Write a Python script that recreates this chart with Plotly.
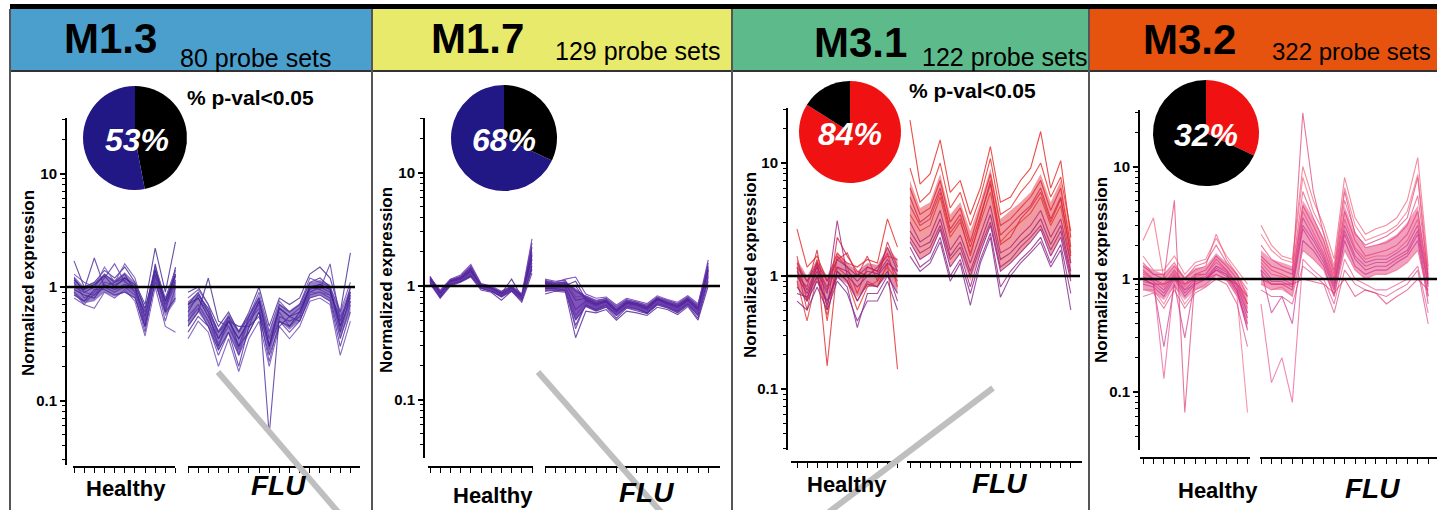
import plotly.graph_objects as go

W, H = 1437, 510

# ---------------- data ----------------
module_names = ["M1.3", "M1.7", "M3.1", "M3.2"]
probe_set_labels = ["80 probe sets", "129 probe sets", "122 probe sets", "322 probe sets"]
pct_significant = [53, 68, 84, 32]
group_labels = ["Healthy", "FLU"]
pval_label = "% p-val<0.05"
y_title = "Normalized expression"
y_tick_vals = [0.1, 1, 10]
y_tick_text = ["0.1", "1", "10"]

m13_healthy = [
    [1.2, 0.9, 1.0, 1.3, 1.1, 1.2, 1.0, 0.45, 1.6, 0.6, 1.5],
    [0.9, 0.75, 0.85, 1.0, 0.9, 1.0, 0.85, 0.4, 1.2, 0.5, 1.0],
    [1.7, 1.0, 1.1, 1.4, 1.2, 1.5, 1.1, 0.7, 2.2, 0.9, 2.5],
    [0.8, 0.7, 0.65, 0.9, 0.8, 0.95, 0.75, 0.37, 1.0, 0.45, 0.4],
    [1.0, 0.95, 1.8, 1.0, 1.1, 1.3, 0.9, 0.6, 1.4, 0.75, 1.3],
    [1.1, 0.8, 0.9, 1.2, 1.6, 1.1, 1.0, 0.5, 1.3, 0.65, 1.1],
    [0.95, 0.85, 0.8, 1.05, 0.95, 1.05, 1.0, 0.55, 1.25, 0.7, 1.15],
    [1.3, 1.1, 1.0, 1.5, 1.1, 1.6, 1.2, 0.6, 1.5, 0.8, 1.4],
    [0.85, 0.75, 0.95, 0.95, 0.85, 0.9, 0.8, 0.45, 1.1, 0.6, 0.8],
    [1.0, 0.9, 0.85, 1.1, 1.05, 1.15, 0.9, 0.5, 1.3, 0.65, 1.3],
    [1.15, 0.95, 1.05, 1.25, 1.0, 1.2, 1.05, 0.65, 1.4, 0.75, 1.25],
    [0.9, 0.7, 0.9, 1.0, 0.9, 1.05, 0.9, 0.5, 1.2, 0.65, 1.05],
]
m13_flu = [
    [0.7, 0.9, 0.6, 0.3, 0.55, 0.3, 0.55, 0.8, 0.3, 0.7, 0.6, 0.7, 1.1, 1.2, 1.0, 0.45, 1.0],
    [0.5, 0.65, 0.45, 0.25, 0.4, 0.25, 0.4, 0.6, 0.22, 0.5, 0.4, 0.5, 0.85, 0.9, 0.8, 0.35, 0.7],
    [0.9, 1.0, 0.7, 0.45, 0.6, 0.4, 0.6, 1.0, 0.45, 0.8, 0.7, 0.8, 1.3, 1.5, 1.2, 0.6, 2.0],
    [0.35, 0.5, 0.4, 0.2, 0.35, 0.18, 0.35, 0.5, 0.2, 0.45, 0.35, 0.45, 0.75, 0.8, 0.7, 0.25, 0.5],
    [0.6, 0.85, 0.65, 0.4, 0.5, 0.45, 0.45, 0.75, 0.05, 0.55, 0.5, 0.55, 0.9, 1.0, 0.9, 0.5, 0.9],
    [0.55, 0.7, 0.5, 0.3, 0.5, 0.35, 0.5, 0.65, 0.3, 0.6, 0.45, 0.55, 1.0, 0.95, 0.85, 0.55, 0.8],
    [0.45, 0.6, 1.2, 0.5, 0.45, 0.3, 0.4, 0.6, 0.3, 0.5, 0.45, 0.6, 0.95, 1.05, 0.95, 0.45, 0.75],
    [0.8, 0.95, 0.7, 0.35, 0.55, 0.25, 0.55, 0.9, 0.4, 0.75, 0.6, 0.7, 1.2, 1.1, 1.0, 0.6, 1.1],
    [0.4, 0.55, 0.45, 0.28, 0.4, 0.2, 0.45, 0.55, 0.25, 0.45, 0.55, 0.5, 0.8, 0.85, 0.75, 0.3, 0.6],
    [0.65, 0.8, 0.6, 0.4, 0.55, 0.4, 0.55, 0.8, 0.35, 0.65, 0.55, 0.65, 1.0, 0.95, 1.6, 0.5, 0.9],
    [0.7, 0.8, 0.55, 0.35, 0.5, 0.35, 0.5, 0.75, 0.3, 0.65, 0.55, 0.6, 1.0, 1.05, 0.95, 0.4, 0.85],
    [0.5, 0.7, 0.5, 0.32, 0.45, 0.28, 0.5, 0.7, 0.28, 0.55, 0.5, 0.55, 0.9, 0.9, 0.85, 0.42, 0.75],
]
m13_healthy_core = [[0.85, 0.72, 0.75, 0.9, 0.82, 0.9, 0.8, 0.42, 1.05, 0.55, 0.75],
                    [1.25, 1.0, 1.1, 1.3, 1.15, 1.35, 1.1, 0.65, 1.6, 0.8, 1.5]]
m13_flu_core = [[0.45, 0.6, 0.45, 0.27, 0.4, 0.25, 0.42, 0.6, 0.25, 0.5, 0.42, 0.5, 0.8, 0.85, 0.75, 0.35, 0.6],
                [0.75, 0.9, 0.65, 0.42, 0.58, 0.42, 0.58, 0.85, 0.42, 0.72, 0.62, 0.72, 1.1, 1.15, 1.05, 0.6, 1.0]]

m17_healthy = [
    [1.2, 0.88, 1.12, 1.2, 1.45, 1.02, 0.97, 0.88, 0.98, 0.82, 2.4],
    [1.1, 0.8, 1.05, 1.1, 1.25, 0.95, 0.9, 0.82, 0.92, 0.76, 1.5],
    [1.18, 0.92, 1.15, 1.25, 1.55, 1.05, 1.0, 0.9, 1.0, 0.85, 2.0],
    [1.05, 0.78, 1.0, 1.08, 1.2, 0.92, 0.88, 0.75, 0.9, 0.72, 1.3],
    [1.22, 0.86, 1.1, 1.18, 1.4, 1.0, 0.96, 0.86, 1.15, 0.8, 2.2],
    [1.12, 0.84, 1.08, 1.12, 1.3, 0.98, 0.94, 0.84, 0.94, 0.79, 1.7],
    [1.15, 0.82, 1.12, 1.17, 1.38, 1.03, 0.93, 0.83, 0.93, 0.78, 1.9],
    [1.08, 0.8, 1.02, 1.1, 1.22, 0.96, 0.9, 0.8, 0.9, 0.75, 1.4],
    [1.2, 0.9, 1.14, 1.22, 1.5, 1.04, 0.98, 0.88, 0.99, 0.84, 2.6],
    [1.13, 0.85, 1.09, 1.14, 1.33, 1.0, 0.95, 0.85, 0.95, 0.8, 1.75],
    [1.16, 0.87, 1.1, 1.16, 1.36, 1.01, 0.96, 0.86, 0.96, 0.81, 1.85],
    [1.1, 0.83, 1.06, 1.12, 1.28, 0.97, 0.93, 0.83, 0.93, 0.78, 1.6],
]
m17_flu = [
    [1.1, 1.05, 1.08, 0.9, 0.8, 0.72, 0.75, 0.62, 0.74, 0.7, 0.66, 0.78, 0.72, 0.68, 0.78, 0.65, 1.6],
    [0.95, 0.95, 0.92, 0.45, 0.68, 0.62, 0.68, 0.55, 0.66, 0.63, 0.58, 0.7, 0.66, 0.6, 0.7, 0.55, 1.2],
    [1.12, 1.08, 1.15, 1.2, 0.85, 0.78, 0.8, 0.68, 0.78, 0.74, 0.7, 0.82, 0.76, 0.72, 0.82, 0.7, 1.5],
    [0.85, 0.9, 0.88, 0.35, 0.6, 0.58, 0.62, 0.5, 0.6, 0.58, 0.55, 0.65, 0.62, 0.56, 0.66, 0.5, 1.0],
    [1.08, 1.02, 1.05, 0.75, 0.78, 0.7, 0.74, 0.6, 0.72, 0.7, 0.64, 0.78, 0.7, 0.66, 0.76, 0.6, 1.45],
    [1.0, 0.98, 0.98, 0.55, 0.72, 0.66, 0.7, 0.58, 0.68, 0.66, 0.62, 0.73, 0.68, 0.63, 0.73, 0.6, 1.3],
    [1.05, 1.0, 1.02, 1.0, 0.74, 0.67, 0.73, 0.59, 0.7, 0.67, 0.62, 0.76, 0.69, 0.64, 0.74, 0.63, 1.4],
    [0.9, 0.92, 0.9, 0.5, 0.66, 0.6, 0.65, 0.52, 0.64, 0.6, 0.57, 0.68, 0.64, 0.58, 0.68, 0.52, 1.1],
    [1.15, 1.1, 1.12, 0.8, 0.82, 0.75, 0.78, 0.66, 0.76, 0.72, 0.68, 0.8, 0.75, 0.7, 0.8, 0.68, 1.7],
    [1.02, 0.99, 1.0, 0.62, 0.74, 0.68, 0.72, 0.6, 0.7, 0.68, 0.63, 0.75, 0.7, 0.65, 0.75, 0.62, 1.35],
    [1.06, 1.01, 1.01, 1.1, 0.76, 0.69, 0.73, 0.61, 0.71, 0.69, 0.64, 0.76, 0.71, 0.66, 0.76, 0.63, 1.38],
    [0.98, 0.96, 0.96, 0.42, 0.7, 0.64, 0.69, 0.56, 0.67, 0.64, 0.6, 0.72, 0.67, 0.62, 0.71, 0.58, 1.25],
]
m17_healthy_core = [[1.05, 0.8, 1.02, 1.08, 1.22, 0.95, 0.9, 0.8, 0.9, 0.76, 1.4],
                    [1.2, 0.9, 1.14, 1.22, 1.5, 1.05, 0.98, 0.9, 1.0, 0.85, 2.3]]
m17_flu_core = [[0.9, 0.92, 0.9, 0.5, 0.66, 0.6, 0.65, 0.54, 0.64, 0.61, 0.57, 0.68, 0.64, 0.58, 0.68, 0.54, 1.1],
                [1.12, 1.08, 1.1, 0.95, 0.82, 0.75, 0.78, 0.66, 0.76, 0.73, 0.68, 0.8, 0.75, 0.7, 0.8, 0.68, 1.6]]

m31_healthy = [
    [2.6, 1.2, 1.5, 0.9, 1.6, 1.3, 1.2, 1.4, 1.3, 3.2, 1.8],
    [1.5, 0.6, 1.4, 0.4, 1.5, 1.2, 0.7, 1.2, 1.1, 1.6, 0.8],
    [1.2, 0.5, 1.3, 0.16, 1.2, 1.0, 0.6, 0.9, 0.8, 1.3, 0.15],
    [1.0, 0.8, 1.7, 0.5, 2.2, 1.5, 1.1, 1.0, 1.2, 1.5, 1.4],
    [0.9, 0.4, 1.0, 0.45, 1.1, 0.9, 0.5, 0.8, 0.9, 1.2, 0.9],
    [1.3, 0.9, 1.2, 0.8, 1.4, 1.6, 1.0, 1.5, 0.9, 2.0, 1.2],
    [1.0, 0.7, 1.1, 0.7, 3.1, 1.0, 0.8, 1.0, 1.0, 1.3, 1.1],
    [0.8, 0.6, 0.9, 0.6, 1.0, 0.8, 0.35, 0.7, 0.7, 1.0, 0.7],
    [1.1, 0.75, 1.2, 0.75, 1.2, 1.1, 0.9, 1.1, 1.05, 1.4, 1.0],
    [0.6, 0.5, 0.8, 0.5, 0.9, 0.7, 0.4, 0.6, 0.6, 0.9, 0.5],
    [1.2, 0.9, 1.3, 0.9, 1.4, 1.2, 1.0, 1.2, 1.1, 1.8, 1.1],
    [0.7, 0.65, 1.0, 0.55, 1.1, 0.9, 0.6, 0.85, 0.8, 1.1, 0.6],
]
m31_flu = [
    [24, 6.5, 8, 16, 5.5, 7, 3.5, 6, 14, 4.5, 5, 7, 9, 19, 6, 10.5, 2.2],
    [9, 4.5, 5.5, 10, 4, 5.5, 2.8, 5, 11, 3.5, 4, 5.5, 7, 10, 5, 7.5, 2.5],
    [6, 3.5, 4, 7, 3, 4, 2.0, 4, 8, 2.8, 3.2, 4, 5, 7, 3.8, 6, 1.8],
    [5, 3, 3.5, 6, 2.6, 3.5, 1.8, 3.5, 6.5, 2.3, 2.8, 3.5, 4.2, 6, 3.2, 5, 1.5],
    [3.5, 2.5, 2.8, 5, 2.2, 3, 1.6, 3, 5.5, 2, 2.5, 3, 3.6, 5, 2.8, 4.2, 1.3],
    [4.2, 2.8, 3.2, 5.5, 2.4, 3.2, 1.5, 3.2, 7, 1.9, 2.2, 3.2, 4.0, 5.5, 3.0, 4.8, 1.6],
    [2.5, 1.8, 2.0, 3.2, 1.5, 2.0, 1.1, 2.0, 3.5, 1.4, 1.6, 2.0, 2.4, 3.2, 1.9, 2.8, 1.1],
    [2.0, 1.4, 1.6, 2.6, 1.2, 1.6, 0.8, 1.6, 2.8, 1.1, 1.3, 1.6, 2.0, 2.6, 1.5, 2.2, 0.9],
    [3.0, 2.0, 2.3, 3.8, 1.7, 2.3, 1.3, 2.3, 4.2, 1.6, 1.8, 2.3, 2.8, 3.8, 2.2, 3.2, 1.3],
    [1.5, 1.1, 1.3, 2.0, 0.9, 1.3, 0.55, 1.3, 2.2, 0.65, 1.0, 1.3, 1.6, 2.0, 1.2, 1.7, 0.5],
    [2.2, 1.6, 1.8, 2.8, 1.4, 1.8, 1.0, 1.8, 3.0, 1.2, 1.4, 1.8, 2.2, 2.8, 1.7, 2.5, 1.0],
    [1.8, 1.2, 1.4, 2.2, 1.0, 1.4, 0.7, 1.4, 2.4, 0.8, 1.1, 1.4, 1.7, 2.2, 1.3, 1.9, 0.7],
]
m31_healthy_core = [[0.8, 0.6, 0.9, 0.55, 0.95, 0.85, 0.65, 0.8, 0.8, 1.0, 0.7],
                    [1.4, 1.0, 1.4, 1.0, 1.6, 1.3, 1.1, 1.3, 1.25, 1.8, 1.4]]
m31_flu_core = [[2.0, 1.4, 1.6, 2.5, 1.2, 1.6, 0.9, 1.6, 2.8, 1.1, 1.3, 1.6, 2.0, 2.6, 1.5, 2.2, 0.9],
                [7, 4, 4.5, 8, 3.5, 4.5, 2.5, 4.5, 9, 3.2, 3.8, 4.5, 5.5, 8, 4.5, 7, 2.2]]

m32_healthy = [
    [1.2, 1.0, 0.9, 1.2, 0.9, 1.1, 1.1, 1.5, 1.2, 0.9, 0.6],
    [0.9, 0.85, 0.7, 1.0, 0.7, 0.9, 1.0, 1.2, 1.05, 0.75, 0.4],
    [2.2, 3.5, 1.0, 1.3, 1.0, 1.2, 1.3, 2.5, 1.5, 1.1, 0.7],
    [1.0, 0.9, 0.25, 0.9, 0.3, 1.0, 1.0, 1.2, 1.1, 0.8, 0.35],
    [1.1, 1.0, 0.13, 1.0, 0.8, 0.9, 1.0, 1.3, 1.2, 0.9, 0.5],
    [1.3, 1.1, 1.0, 5.0, 0.065, 1.1, 1.2, 1.6, 1.3, 1.0, 0.6],
    [0.8, 0.8, 0.6, 0.9, 0.6, 0.8, 0.9, 1.1, 1.0, 0.7, 0.065],
    [1.05, 0.95, 0.8, 1.1, 0.8, 1.0, 1.05, 1.3, 1.15, 0.85, 0.5],
    [1.4, 1.1, 1.1, 1.4, 1.0, 1.3, 1.4, 2.0, 1.4, 1.1, 0.8],
    [0.7, 0.75, 0.55, 0.8, 0.55, 0.75, 0.85, 1.0, 0.9, 0.6, 0.25],
    [1.15, 1.0, 0.85, 1.15, 0.85, 1.05, 1.1, 1.4, 1.2, 0.9, 0.55],
    [0.95, 0.9, 0.75, 1.05, 0.75, 0.95, 1.0, 1.25, 1.1, 0.8, 0.45],
    [1.0, 0.9, 0.9, 1.0, 0.9, 1.0, 1.0, 1.1, 1.0, 0.9, 0.7],
    [1.6, 1.2, 1.2, 1.6, 1.1, 1.4, 1.5, 2.3, 1.6, 1.2, 0.9],
]
m32_flu = [
    [1.5, 1.2, 1.1, 1.0, 4.5, 3.0, 1.9, 1.0, 4.0, 2.2, 1.6, 1.7, 1.8, 2.0, 2.5, 4.0, 1.0],
    [1.1, 0.9, 0.9, 0.8, 2.8, 2.0, 1.4, 0.8, 2.5, 1.5, 1.2, 1.3, 1.3, 1.5, 1.7, 2.5, 0.7],
    [3.0, 2.0, 1.6, 1.5, 10, 5, 3, 1.5, 8, 3.5, 2.5, 2.8, 3.0, 3.5, 5.0, 12, 1.3],
    [1.2, 0.5, 0.7, 0.4, 2.2, 1.8, 1.3, 0.7, 2.2, 1.3, 1.1, 1.2, 1.2, 1.4, 1.6, 2.2, 0.6],
    [0.6, 0.12, 0.2, 0.08, 1.5, 1.2, 1.0, 0.6, 1.5, 1.0, 0.9, 0.8, 0.8, 0.9, 1.0, 1.3, 0.5],
    [1.6, 1.3, 1.2, 1.1, 30, 6, 2.5, 1.2, 6, 2.5, 2.0, 2.2, 2.4, 2.8, 3.5, 8, 1.0],
    [0.9, 0.8, 0.85, 0.7, 1.8, 1.5, 1.2, 0.7, 1.8, 1.2, 1.0, 1.1, 1.1, 1.2, 1.4, 1.8, 0.7],
    [1.3, 1.0, 1.0, 0.9, 3.5, 2.4, 1.6, 0.9, 3.0, 1.8, 1.4, 1.5, 1.5, 1.7, 2.0, 3.0, 0.9],
    [2.0, 1.5, 1.3, 1.2, 6, 3.5, 2.2, 1.1, 5, 2.6, 1.9, 2.0, 2.1, 2.4, 3.0, 5.5, 1.1],
    [0.8, 0.7, 0.7, 0.6, 1.3, 1.1, 0.9, 0.5, 1.2, 0.9, 0.8, 0.75, 0.7, 0.8, 0.9, 1.2, 0.4],
    [1.4, 1.1, 1.05, 0.95, 4.0, 2.6, 1.7, 0.95, 3.4, 1.9, 1.5, 1.6, 1.6, 1.8, 2.2, 3.4, 0.95],
    [1.2, 0.95, 0.95, 0.85, 3.0, 2.2, 1.5, 0.85, 2.7, 1.6, 1.3, 1.4, 1.4, 1.6, 1.8, 2.7, 0.85],
    [1.0, 0.9, 0.9, 0.9, 1.0, 0.95, 0.9, 0.75, 1.0, 0.7, 0.8, 0.75, 0.6, 0.7, 0.8, 1.0, 0.8],
    [2.5, 1.8, 1.5, 1.4, 8, 4.0, 2.6, 1.3, 6.5, 3.0, 2.2, 2.4, 2.6, 3.0, 4.0, 8.5, 1.2],
]
m32_healthy_core = [[0.8, 0.75, 0.65, 0.85, 0.65, 0.8, 0.85, 1.05, 0.95, 0.7, 0.35],
                    [1.35, 1.2, 1.1, 1.35, 1.05, 1.25, 1.3, 1.7, 1.4, 1.1, 0.75]]
m32_flu_core = [[0.9, 0.8, 0.8, 0.7, 1.8, 1.5, 1.2, 0.7, 1.8, 1.2, 1.0, 1.1, 1.1, 1.2, 1.4, 1.8, 0.7],
                [1.8, 1.5, 1.4, 1.3, 5, 3.5, 2.3, 1.2, 4.5, 2.5, 1.9, 2.0, 2.2, 2.5, 3.2, 4.5, 1.1]]

healthy_sets = [m13_healthy, m17_healthy, m31_healthy, m32_healthy]
flu_sets = [m13_flu, m17_flu, m31_flu, m32_flu]
healthy_cores = [m13_healthy_core, m17_healthy_core, m31_healthy_core, m32_healthy_core]
flu_cores = [m13_flu_core, m17_flu_core, m31_flu_core, m32_flu_core]

# ---------------- styles ----------------
FONT = "Liberation Sans, Arial, sans-serif"
header_colors = ["#4A9FCC", "#E8EA6C", "#5DBA8B", "#E5530E"]
pie_sig_colors = ["#211785", "#211785", "#F01212", "#F01212"]
pie_sig_first = [False, False, True, True]
line_palettes = [
    ["#4B2A9B", "#5B35A8", "#3E2590", "#6A45B5"],
    ["#5A2CA0", "#4E2899", "#6A3AB0"],
    ["#E52420", "#EA2A25", "#E0282E", "#D9233C", "#E33A2A", "#DC2A40",
     "#A0207A", "#8E2388", "#B02570", "#7E2890", "#A82A6E", "#92207F"],
    ["#E8306E", "#D62A7C", "#F0506E", "#C8288A", "#E84A8A", "#DA2F66", "#F06080",
     "#CC3090", "#E43A78", "#D8407E", "#EE4A70", "#C43488", "#E02E6A", "#F25A7A"],
]
line_opacity = [0.8, 0.85, 0.8, 0.65]
core_fill_healthy = ["rgba(80,40,160,0.6)", "rgba(95,40,165,0.8)",
                     "rgba(200,30,90,0.5)", "rgba(215,40,115,0.45)"]
core_fill_flu = ["rgba(80,40,160,0.6)", "rgba(95,40,165,0.8)",
                 "rgba(225,35,50,0.45)", "rgba(225,45,110,0.45)"]

# pixel geometry of each panel
geom = [
    dict(yax=67, h0=74, u=10.15, f0=188, right=360, hax=(73, 175), fax=(188, 360),
         ytop=118, ybot=465, one=287, dec=113.5, xay=467, hline=(67, 355),
         pie=(135, 138, 52), pct=(137, 140), pval=(185, 98),
         mname=(62, 39), probes=(178, 58), ylab=(28, 283), hl=(126, 488), fl=(278, 485)),
    dict(yax=425, h0=430, u=10.2, f0=545, right=720, hax=(428, 533), fax=(545, 720),
         ytop=118, ybot=458, one=286, dec=113.5, xay=467, hline=(425, 720),
         pie=(504, 138, 53), pct=(504, 140), pval=None,
         mname=(429, 39), probes=(553, 51), ylab=(386, 280), hl=(493, 495), fl=(646, 492)),
    dict(yax=788, h0=797, u=10.05, f0=910, right=1082, hax=(791, 895), fax=(907, 1082),
         ytop=108, ybot=450, one=276, dec=113, xay=462, hline=(788, 1080),
         pie=(850, 132, 51), pct=(850, 134), pval=(907, 90),
         mname=(812, 42), probes=(920, 57), ylab=(750, 265), hl=(847, 484), fl=(1000, 483)),
    dict(yax=1140, h0=1143, u=10.45, f0=1261, right=1437, hax=(1140, 1250), fax=(1260, 1437),
         ytop=110, ybot=450, one=279, dec=112.5, xay=458, hline=(1140, 1437),
         pie=(1206, 133, 53), pct=(1206, 135), pval=None,
         mname=(1141, 40), probes=(1270, 52), ylab=(1101, 270), hl=(1218, 490), fl=(1372, 488)),
]
probe_font_sizes = [25, 25, 25, 24]


def fx(p):
    return p / W


def fy(p):
    return 1 - p / H


fig = go.Figure()
shapes = []
annotations = []


def ann(text, x, y, size, color="black", bold=True, italic=False,
        xanchor="center", yanchor="middle", angle=0):
    annotations.append(dict(
        text=text, x=fx(x), y=fy(y), xref="paper", yref="paper",
        xanchor=xanchor, yanchor=yanchor, showarrow=False, textangle=angle,
        font=dict(family=FONT, size=size, color=color,
                  weight="bold" if bold else "normal",
                  style="italic" if italic else "normal")))


# headers & borders
for k in range(4):
    x0 = [10, 372, 732, 1089][k]
    x1 = [372, 732, 1089, 1437][k]
    shapes.append(dict(type="rect", xref="paper", yref="paper", x0=fx(x0), x1=fx(x1),
                       y0=fy(71), y1=fy(9), fillcolor=header_colors[k], line=dict(width=0),
                       layer="below"))
shapes.append(dict(type="rect", xref="paper", yref="paper", x0=fx(10), x1=1,
                   y0=fy(9), y1=fy(4), fillcolor="black", line=dict(width=0)))
shapes.append(dict(type="line", xref="paper", yref="paper", x0=fx(10), x1=1,
                   y0=fy(71), y1=fy(71), line=dict(color="#333333", width=2)))
for xs in [10, 372, 732, 1089]:
    shapes.append(dict(type="line", xref="paper", yref="paper", x0=fx(xs), x1=fx(xs),
                       y0=0, y1=fy(9), line=dict(color="#555555", width=2)))

for k in range(4):
    g = geom[k]
    ax = "" if k == 0 else str(k + 1)
    xname, yname = "x" + ax, "y" + ax
    n_h = len(healthy_sets[k][0])
    n_f = len(flu_sets[k][0])
    fo = (g["f0"] - g["h0"]) / g["u"]
    xs_h = list(range(n_h))
    xs_f = [fo + j for j in range(n_f)]
    pal = line_palettes[k]

    # dense core of the bundles
    for xs, (lo, hi), fc in ((xs_h, healthy_cores[k], core_fill_healthy[k]),
                             (xs_f, flu_cores[k], core_fill_flu[k])):
        fig.add_trace(go.Scatter(
            x=xs + xs[::-1], y=hi + lo[::-1], mode="lines", fill="toself",
            fillcolor=fc, line=dict(width=0), xaxis=xname, yaxis=yname,
            showlegend=False, hoverinfo="skip"))

    for i, (hv, fv) in enumerate(zip(healthy_sets[k], flu_sets[k])):
        col = pal[i % len(pal)]
        for xs, ys in ((xs_h, hv), (xs_f, fv)):
            fig.add_trace(go.Scatter(
                x=xs, y=ys, mode="lines", xaxis=xname, yaxis=yname,
                line=dict(color=col, width=1.1), opacity=line_opacity[k],
                showlegend=False, hoverinfo="skip"))

    xr = [(g["yax"] - g["h0"]) / g["u"], (g["right"] - g["h0"]) / g["u"]]
    yr = [(g["one"] - g["ybot"]) / g["dec"], (g["one"] - g["ytop"]) / g["dec"]]
    fig.layout["xaxis" + ax] = dict(
        domain=[fx(g["yax"]), fx(g["right"])], range=xr, anchor="free",
        position=fy(g["xay"]), showline=False, showgrid=False, zeroline=False,
        tickmode="array", tickvals=xs_h + xs_f, ticks="outside", ticklen=5,
        tickwidth=1, tickcolor="black", showticklabels=False, fixedrange=True)
    fig.layout["yaxis" + ax] = dict(
        domain=[fy(g["ybot"]), fy(g["ytop"])], range=yr, type="log", anchor=xname,
        showline=True, linecolor="black", linewidth=2, showgrid=False, zeroline=False,
        tickmode="array", tickvals=y_tick_vals, ticktext=y_tick_text,
        ticks="outside", ticklen=5, tickwidth=2, tickcolor="black",
        tickfont=dict(family=FONT, size=15, color="black", weight="bold"),
        minor=dict(ticks="outside", ticklen=3, tickwidth=1, tickcolor="black",
                   tickmode="array",
                   tickvals=[0.03, 0.04, 0.05, 0.06, 0.07, 0.08, 0.09,
                             0.2, 0.3, 0.4, 0.5, 0.6, 0.7, 0.8, 0.9,
                             2, 3, 4, 5, 6, 7, 8, 9, 20, 30], showgrid=False),
        fixedrange=True)

    # broken x axis line
    for a, b in (g["hax"], g["fax"]):
        shapes.append(dict(type="line", xref="paper", yref="paper", x0=fx(a), x1=fx(b),
                           y0=fy(g["xay"]), y1=fy(g["xay"]), line=dict(color="black", width=2)))
    # reference line at 1
    shapes.append(dict(type="line", xref="paper", yref=yname, x0=fx(g["hline"][0]),
                       x1=fx(g["hline"][1]), y0=1, y1=1, line=dict(color="black", width=2.5)))

    # pie
    cx, cy, r = g["pie"]
    p = pct_significant[k]
    if pie_sig_first[k]:
        vals, cols = [p, 100 - p], [pie_sig_colors[k], "black"]
    else:
        vals, cols = [100 - p, p], ["black", pie_sig_colors[k]]
    fig.add_trace(go.Pie(values=vals, marker=dict(colors=cols, line=dict(width=0)),
                         sort=False, direction="clockwise", rotation=0, textinfo="none",
                         hoverinfo="skip", showlegend=False,
                         domain=dict(x=[fx(cx - r), fx(cx + r)], y=[fy(cy + r), fy(cy - r)])))
    ann(f"{p}%", g["pct"][0], g["pct"][1], 32, color="white", italic=True)

    # texts
    ann(module_names[k], g["mname"][0], g["mname"][1], 42, xanchor="left")
    ann(probe_set_labels[k], g["probes"][0], g["probes"][1], probe_font_sizes[k],
        bold=False, xanchor="left")
    if g["pval"]:
        ann(pval_label, g["pval"][0], g["pval"][1], 21, xanchor="left")
    ann(y_title, g["ylab"][0], g["ylab"][1], 17, angle=-90)
    ann(group_labels[0], g["hl"][0], g["hl"][1], 22)
    ann(group_labels[1], g["fl"][0], g["fl"][1], 28, italic=True)

# grey diagonal overlay strokes
for (xa, ya, xb, yb) in [(218, 372, 338, 512), (538, 372, 661, 512), (993, 388, 829, 512)]:
    shapes.append(dict(type="line", xref="paper", yref="paper", x0=fx(xa), y0=fy(ya),
                       x1=fx(xb), y1=fy(yb), line=dict(color="#BFBFBF", width=6), layer="above"))

fig.update_layout(width=W, height=H, margin=dict(l=0, r=0, t=0, b=0),
                  paper_bgcolor="white", plot_bgcolor="rgba(0,0,0,0)",
                  shapes=shapes, annotations=annotations, showlegend=False)

fig.write_html("out.html", config={"displayModeBar": False})
